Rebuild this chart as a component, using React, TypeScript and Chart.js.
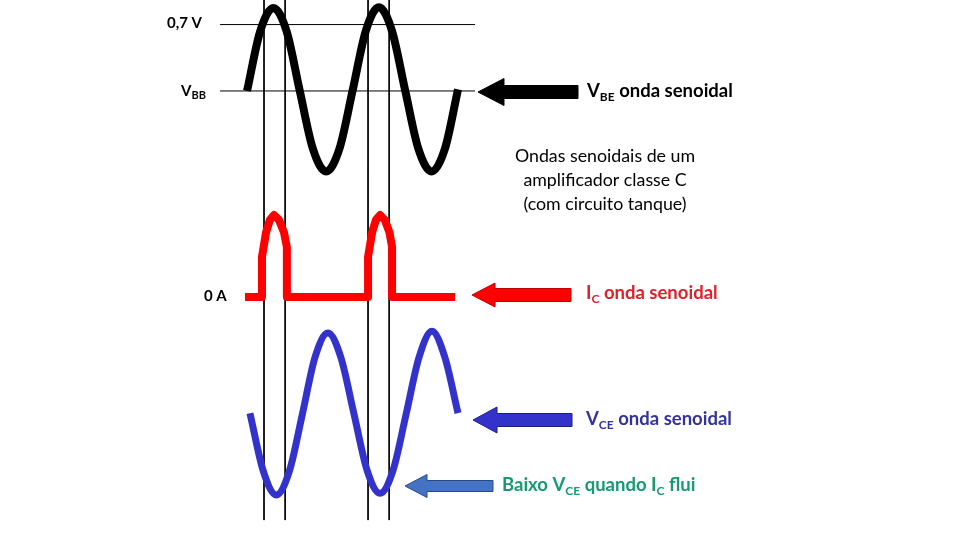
import React, { useEffect, useRef } from "react";
import { Chart, registerables } from "chart.js";

Chart.register(...registerables);

// ---- Data (x = phase of the input signal in degrees) ----
const vbePhase = [0, 45, 90, 135, 180, 225, 270, 315, 360, 405, 450, 495, 540, 585, 630, 675, 720];
const vbeValues = [0, 0.72, 1.0, 0.72, 0, -0.7, -0.97, -0.7, 0, 0.72, 1.01, 0.72, 0, -0.7, -0.97, -0.7, 0.02];

const icPhase = [-7, 51, 51, 65, 78, 92, 109, 126, 136, 136, 413, 413, 427, 440, 454, 470, 486, 495, 495, 710];
const icValues = [0, 0, 0.49, 0.79, 0.94, 1.0, 0.94, 0.79, 0.61, 0, 0, 0.49, 0.79, 0.94, 1.0, 0.94, 0.79, 0.61, 0, 0];

const vcePhase = [10, 55, 100, 145, 189, 232, 276, 320, 365, 410, 454, 498, 543, 587, 631, 675, 720];
const vceValues = [0.01, -0.7, -1.0, -0.7, 0, 0.7, 1.0, 0.7, 0, -0.7, -0.98, -0.7, 0, 0.7, 1.02, 0.7, 0.01];

// reference levels on the V_BE trace: 0,7 V and V_BB
const refLevels = [0.8, 0];
const refPhaseSpan = [-92, 778];
// conduction-angle markers
const markerPhase = [58, 130, 413, 485];
const markerSpan = [1.12, -5.17];

const pts = (xs: number[], ys: number[]) => xs.map((x, i) => ({ x, y: ys[i] }));

type Run = [string, boolean];

function drawRich(
  ctx: CanvasRenderingContext2D,
  x: number,
  y: number,
  runs: Run[],
  size: number,
  weight: string,
  family: string,
  color: string,
  align: "left" | "center" = "left",
  subScale = 0.66
) {
  const main = `${weight} ${size}px ${family}`;
  const sub = `${weight} ${Math.round(size * subScale)}px ${family}`;
  let total = 0;
  for (const [t, s] of runs) {
    ctx.font = s ? sub : main;
    total += ctx.measureText(t).width;
  }
  let cx = align === "center" ? x - total / 2 : x;
  ctx.fillStyle = color;
  ctx.textBaseline = "alphabetic";
  ctx.textAlign = "left";
  for (const [t, s] of runs) {
    ctx.font = s ? sub : main;
    ctx.fillText(t, cx, s ? y + size * 0.22 : y);
    cx += ctx.measureText(t).width;
  }
}

function drawArrow(
  ctx: CanvasRenderingContext2D,
  tipX: number,
  y: number,
  headX: number,
  headHalf: number,
  shaftHalf: number,
  tailX: number,
  fill: string,
  stroke: string
) {
  ctx.beginPath();
  ctx.moveTo(tipX, y);
  ctx.lineTo(headX, y - headHalf);
  ctx.lineTo(headX, y - shaftHalf);
  ctx.lineTo(tailX, y - shaftHalf);
  ctx.lineTo(tailX, y + shaftHalf);
  ctx.lineTo(headX, y + shaftHalf);
  ctx.lineTo(headX, y + headHalf);
  ctx.closePath();
  ctx.fillStyle = fill;
  ctx.fill();
  ctx.lineWidth = 1;
  ctx.strokeStyle = stroke;
  ctx.stroke();
}

const MAIN_FONT = "Lato, 'Open Sans', sans-serif";

const overlayPlugin = {
  id: "overlay",
  afterDatasetsDraw(chart: any) {
    const ctx: CanvasRenderingContext2D = chart.ctx;
    ctx.save();
    // left labels
    drawRich(ctx, 167, 28, [["0,7 V", false]], 15, "bold", MAIN_FONT, "#000");
    drawRich(ctx, 181, 96, [["V", false], ["BB", true]], 15, "bold", MAIN_FONT, "#000", "left", 0.7);
    drawRich(ctx, 204, 301, [["0 A", false]], 15, "bold", MAIN_FONT, "#000");

    // arrows
    drawArrow(ctx, 478, 92, 504, 13.5, 6.5, 578, "#000000", "#000000");
    drawArrow(ctx, 472, 295, 495, 12, 6.5, 571, "#FF0000", "#C00000");
    drawArrow(ctx, 473, 420, 497, 13, 6.5, 572, "#3333CC", "#202080");
    drawArrow(ctx, 405, 486, 427, 11.5, 5.5, 493, "#4472C4", "#2A4A85");

    // right labels
    const B = 18.5;
    drawRich(ctx, 587, 97, [["V", false], ["BE", true], [" onda senoidal", false]], B, "bold", MAIN_FONT, "#000");
    drawRich(ctx, 586, 299, [["I", false], ["C", true], [" onda senoidal", false]], B, "bold", MAIN_FONT, "#E0202A");
    drawRich(ctx, 586, 425, [["V", false], ["CE", true], [" onda senoidal", false]], B, "bold", MAIN_FONT, "#3333A0");
    drawRich(
      ctx,
      502,
      491,
      [["Baixo V", false], ["CE", true], [" quando I", false], ["C", true], [" flui", false]],
      B,
      "bold",
      MAIN_FONT,
      "#169A74"
    );

    const title = ["Ondas senoidais de um", "amplificador classe C", "(com circuito tanque)"];
    title.forEach((t, i) =>
      drawRich(ctx, 605, 162 + i * 24, [[t, false]], 17.8, "normal", MAIN_FONT, "#000", "center")
    );
    ctx.restore();
  },
};

export default function App() {
  const ref = useRef<HTMLCanvasElement | null>(null);

  useEffect(() => {
    document.body.style.margin = "0";
    const canvas = ref.current!;
    const thin = { borderColor: "#000", borderWidth: 1, pointRadius: 0, tension: 0, clip: false as any };

    const datasets: any[] = [
      {
        label: "VBE",
        data: pts(vbePhase, vbeValues),
        yAxisID: "yV",
        borderColor: "#000000",
        borderWidth: 8,
        pointRadius: 0,
        cubicInterpolationMode: "monotone",
        borderCapStyle: "butt",
        clip: false,
        order: 1,
      },
      {
        label: "IC",
        data: pts(icPhase, icValues),
        yAxisID: "yI",
        borderColor: "#FF0000",
        borderWidth: 8,
        pointRadius: 0,
        tension: 0,
        borderJoinStyle: "round",
        borderCapStyle: "butt",
        clip: false,
        order: 1,
      },
      {
        label: "VCE",
        data: pts(vcePhase, vceValues),
        yAxisID: "yC",
        borderColor: "#3333CC",
        borderWidth: 7,
        pointRadius: 0,
        cubicInterpolationMode: "monotone",
        borderCapStyle: "butt",
        clip: false,
        order: 1,
      },
      ...refLevels.map((lv, i) => ({
        ...thin,
        label: "ref" + i,
        yAxisID: "yV",
        data: refPhaseSpan.map((x) => ({ x, y: lv })),
        order: 5,
      })),
      ...markerPhase.map((p, i) => ({
        ...thin,
        label: "mark" + i,
        yAxisID: "yV",
        data: markerSpan.map((y) => ({ x: p, y })),
        order: 5,
      })),
    ];

    const chart = new Chart(canvas, {
      type: "line",
      data: { datasets },
      options: {
        responsive: false,
        animation: false,
        devicePixelRatio: 1,
        events: [],
        layout: { padding: 0 },
        plugins: { legend: { display: false }, tooltip: { enabled: false } },
        scales: {
          x: { type: "linear", min: -843, max: 2433, display: false },
          yV: { type: "linear", min: -5.41, max: 1.096, display: false },
          yI: { type: "linear", min: -2.963, max: 3.622, display: false },
          yC: { type: "linear", min: -1.556, max: 5.111, display: false },
        },
      } as any,
      plugins: [overlayPlugin],
    });
    return () => chart.destroy();
  }, []);

  return (
    <div style={{ position: "fixed", left: 0, top: 0, width: 960, height: 540, background: "#fff" }}>
      <canvas ref={ref} width={960} height={540} style={{ display: "block" }} />
    </div>
  );
}
